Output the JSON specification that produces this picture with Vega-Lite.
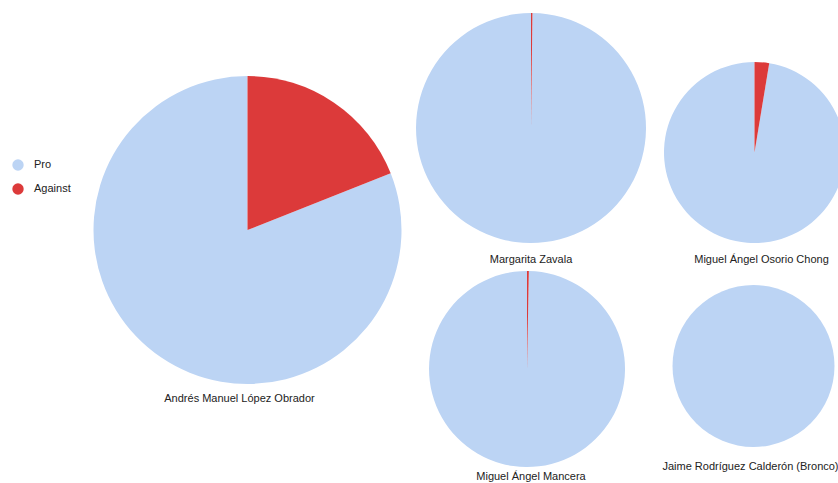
{
  "$schema": "https://vega.github.io/schema/vega-lite/v6.json",
  "background": "white",
  "padding": {"left": 12, "top": 13, "right": 0, "bottom": 0},
  "data": {"values": [
    {"candidate": "Andrés Manuel López Obrador", "stance": "Pro", "value": 81},
    {"candidate": "Andrés Manuel López Obrador", "stance": "Against", "value": 19},
    {"candidate": "Margarita Zavala", "stance": "Pro", "value": 99.8},
    {"candidate": "Margarita Zavala", "stance": "Against", "value": 0.2},
    {"candidate": "Miguel Ángel Mancera", "stance": "Pro", "value": 99.7},
    {"candidate": "Miguel Ángel Mancera", "stance": "Against", "value": 0.3},
    {"candidate": "Miguel Ángel Osorio Chong", "stance": "Pro", "value": 97.4},
    {"candidate": "Miguel Ángel Osorio Chong", "stance": "Against", "value": 2.6},
    {"candidate": "Jaime Rodríguez Calderón (Bronco)", "stance": "Pro", "value": 100},
    {"candidate": "Jaime Rodríguez Calderón (Bronco)", "stance": "Against", "value": 0}
  ]},
  "spacing": 11,
  "hconcat": [
    {
      "width": 315, "height": 372,
      "title": {"text": "Andrés Manuel López Obrador", "orient": "bottom", "offset": 8, "dx": -8},
      "transform": [{"filter": "datum.candidate === 'Andrés Manuel López Obrador'"}],
      "mark": {"type": "arc", "outerRadius": 154, "yOffset": 31},
      "encoding": {
        "theta": {"field": "value", "type": "quantitative", "stack": true},
        "color": {"field": "stance", "type": "nominal", "scale": {"domain": ["Pro", "Against"], "range": ["#bcd4f4", "#dc3a3a"]}, "legend": {"title": null}},
        "order": {"field": "stance", "sort": "ascending"}
      }
    },
    {
      "spacing": 6,
      "vconcat": [
        {
          "width": 230, "height": 230,
          "title": {"text": "Margarita Zavala", "orient": "bottom", "offset": 11},
          "transform": [{"filter": "datum.candidate === 'Margarita Zavala'"}],
          "mark": {"type": "arc", "outerRadius": 115},
          "encoding": {
            "theta": {"field": "value", "type": "quantitative", "stack": true},
            "color": {"field": "stance", "type": "nominal", "scale": {"domain": ["Pro", "Against"], "range": ["#bcd4f4", "#dc3a3a"]}, "legend": {"title": null}},
            "order": {"field": "stance", "sort": "ascending"}
          }
        },
        {
          "width": 230, "height": 196,
          "title": {"text": "Miguel Ángel Mancera", "orient": "bottom", "offset": 4},
          "transform": [{"filter": "datum.candidate === 'Miguel Ángel Mancera'"}],
          "mark": {"type": "arc", "outerRadius": 98, "xOffset": -4},
          "encoding": {
            "theta": {"field": "value", "type": "quantitative", "stack": true},
            "color": {"field": "stance", "type": "nominal", "scale": {"domain": ["Pro", "Against"], "range": ["#bcd4f4", "#dc3a3a"]}, "legend": {"title": null}},
            "order": {"field": "stance", "sort": "ascending"}
          }
        }
      ],
      "resolve": {"scale": {"color": "shared", "theta": "independent"}, "legend": {"color": "shared"}}
    },
    {
      "spacing": 20,
      "vconcat": [
        {
          "width": 195, "height": 230,
          "title": {"text": "Miguel Ángel Osorio Chong", "orient": "bottom", "offset": 11, "dx": 7},
          "transform": [{"filter": "datum.candidate === 'Miguel Ángel Osorio Chong'"}],
          "mark": {"type": "arc", "outerRadius": 90.5, "yOffset": 24.5},
          "encoding": {
            "theta": {"field": "value", "type": "quantitative", "stack": true},
            "color": {"field": "stance", "type": "nominal", "scale": {"domain": ["Pro", "Against"], "range": ["#bcd4f4", "#dc3a3a"]}, "legend": {"title": null}},
            "order": {"field": "stance", "sort": "ascending"}
          }
        },
        {
          "width": 195, "height": 162,
          "title": {"text": "Jaime Rodríguez Calderón (Bronco)", "orient": "bottom", "offset": 14, "dx": -4},
          "transform": [{"filter": "datum.candidate === 'Jaime Rodríguez Calderón (Bronco)'"}],
          "mark": {"type": "arc", "outerRadius": 81, "xOffset": -1},
          "encoding": {
            "theta": {"field": "value", "type": "quantitative", "stack": true},
            "color": {"field": "stance", "type": "nominal", "scale": {"domain": ["Pro", "Against"], "range": ["#bcd4f4", "#dc3a3a"]}, "legend": {"title": null}},
            "order": {"field": "stance", "sort": "ascending"}
          }
        }
      ],
      "resolve": {"scale": {"color": "shared", "theta": "independent"}, "legend": {"color": "shared"}}
    }
  ],
  "resolve": {"scale": {"color": "shared", "theta": "independent"}, "legend": {"color": "shared"}},
  "config": {
    "view": {"stroke": null},
    "title": {"font": "Liberation Sans", "fontSize": 11, "fontWeight": "normal", "color": "#222222", "baseline": "middle", "anchor": "middle"},
    "legend": {
      "orient": "none", "legendX": -78, "legendY": 146, "padding": 0,
      "symbolType": "circle", "symbolSize": 130, "symbolStrokeWidth": 0,
      "labelFont": "Liberation Sans", "labelFontSize": 11, "labelColor": "#222222", "labelOffset": 10,
      "rowPadding": 12
    }
  }
}
